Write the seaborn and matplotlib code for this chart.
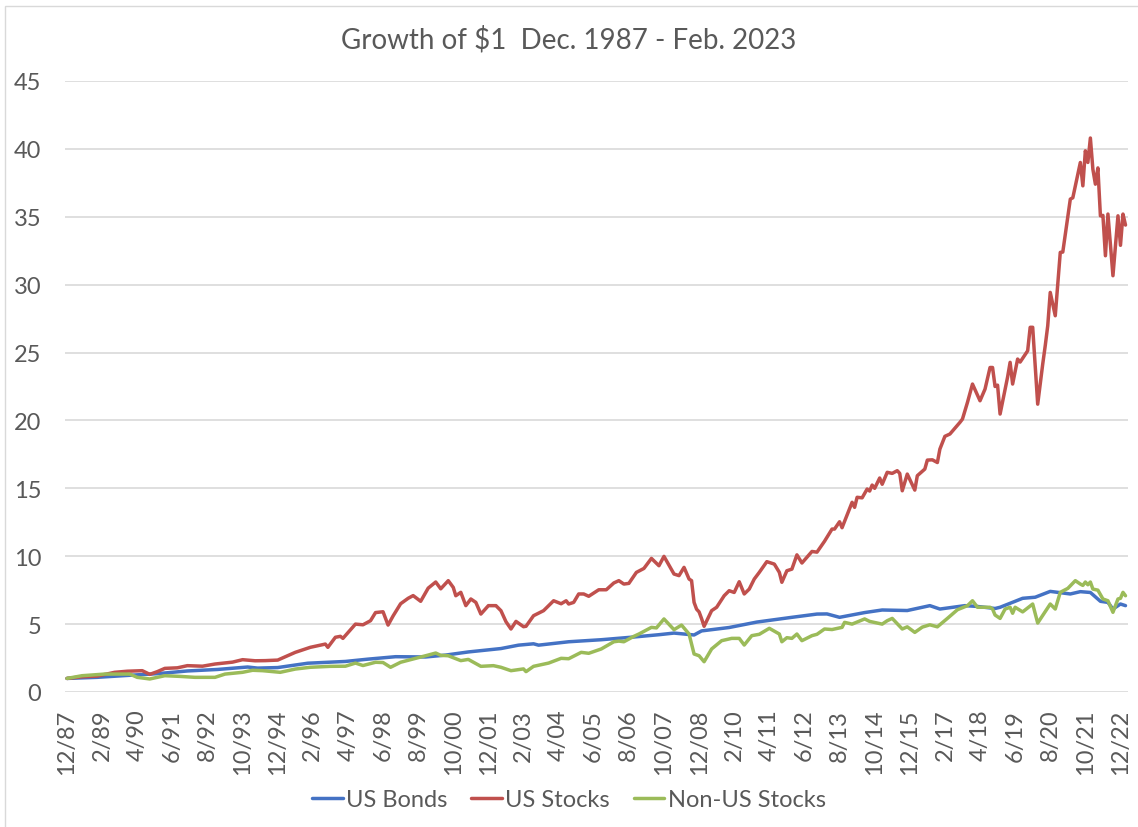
import matplotlib
matplotlib.use("Agg")
import matplotlib.pyplot as plt
from matplotlib.lines import Line2D
from matplotlib.patches import Rectangle
import pandas as pd
import seaborn as sns

# ---- Growth of $1 invested at the end of December 1987 (month-end values) ----
bond_dates = [
    "1987-12", "1988-12", "1989-12", "1990-12", "1991-12", "1992-12", "1993-12", "1994-04",
    "1994-12", "1995-12", "1997-03", "1997-12", "1998-11", "1999-11", "2000-07", "2001-04",
    "2002-05", "2002-12", "2003-06", "2003-08", "2004-08", "2005-09", "2006-10", "2007-08",
    "2008-02", "2008-10", "2009-01", "2009-12", "2010-11", "2012-01", "2012-11", "2013-03",
    "2013-08", "2014-06", "2015-01", "2015-11", "2016-08", "2016-12", "2017-10", "2018-03",
    "2018-10", "2018-12", "2019-09", "2020-02", "2020-08", "2021-04", "2021-08", "2021-12",
    "2022-04", "2022-07", "2022-09", "2022-12", "2023-02",
]
bond_values = [
    1.00, 1.08, 1.22, 1.35, 1.55, 1.66, 1.84, 1.76,
    1.80, 2.12, 2.25, 2.42, 2.60, 2.58, 2.72, 2.95,
    3.20, 3.45, 3.55, 3.45, 3.70, 3.85, 4.05, 4.22,
    4.34, 4.20, 4.50, 4.75, 5.15, 5.50, 5.74, 5.75,
    5.50, 5.85, 6.04, 6.00, 6.36, 6.11, 6.36, 6.30,
    6.15, 6.24, 6.90, 6.98, 7.41, 7.22, 7.39, 7.33,
    6.68, 6.60, 6.11, 6.48, 6.36,
]

stock_dates = [
    "1987-12", "1988-06", "1988-12", "1989-07", "1989-12", "1990-06", "1990-09", "1990-12",
    "1991-03", "1991-08", "1991-12", "1992-06", "1992-11", "1993-06", "1993-10", "1994-03",
    "1994-07", "1994-12", "1995-07", "1996-01", "1996-07", "1996-08", "1996-11", "1997-01",
    "1997-02", "1997-07", "1997-10", "1998-01", "1998-03", "1998-06", "1998-08", "1998-10",
    "1999-01", "1999-04", "1999-06", "1999-09", "1999-12", "2000-03", "2000-05", "2000-08",
    "2000-10", "2000-11", "2001-01", "2001-03", "2001-05", "2001-07", "2001-09", "2001-12",
    "2002-03", "2002-05", "2002-07", "2002-09", "2002-11", "2003-02", "2003-03", "2003-06",
    "2003-10", "2004-02", "2004-05", "2004-07", "2004-08", "2004-10", "2004-12", "2005-02",
    "2005-04", "2005-08", "2005-11", "2006-02", "2006-04", "2006-06", "2006-08", "2006-11",
    "2007-02", "2007-05", "2007-08", "2007-10", "2008-02", "2008-04", "2008-06", "2008-08",
    "2008-09", "2008-10", "2008-11", "2008-12", "2009-01", "2009-02", "2009-05", "2009-07",
    "2009-10", "2009-12", "2010-02", "2010-04", "2010-06", "2010-08", "2010-10", "2010-12",
    "2011-03", "2011-06", "2011-08", "2011-09", "2011-11", "2012-01", "2012-03", "2012-05",
    "2012-09", "2012-11", "2013-02", "2013-05", "2013-06", "2013-08", "2013-09", "2014-01",
    "2014-02", "2014-03", "2014-05", "2014-07", "2014-08", "2014-09", "2014-10", "2014-12",
    "2015-01", "2015-03", "2015-05", "2015-07", "2015-08", "2015-09", "2015-11", "2016-02",
    "2016-03", "2016-06", "2016-07", "2016-09", "2016-11", "2016-12", "2017-02", "2017-04",
    "2017-08", "2017-09", "2017-11", "2018-01", "2018-04", "2018-06", "2018-08", "2018-09",
    "2018-10", "2018-11", "2018-12", "2019-02", "2019-03", "2019-04", "2019-05", "2019-07",
    "2019-08", "2019-11", "2019-12", "2020-01", "2020-03", "2020-05", "2020-06", "2020-07",
    "2020-08", "2020-10", "2020-12", "2021-01", "2021-04", "2021-05", "2021-08", "2021-09",
    "2021-10", "2021-11", "2021-12", "2022-01", "2022-02", "2022-03", "2022-04", "2022-05",
    "2022-06", "2022-07", "2022-09", "2022-11", "2022-12", "2023-01", "2023-02",
]
stock_values = [
    1.00, 1.12, 1.17, 1.45, 1.53, 1.57, 1.30, 1.50,
    1.74, 1.78, 1.94, 1.90, 2.06, 2.20, 2.38, 2.30,
    2.31, 2.35, 2.92, 3.29, 3.53, 3.29, 4.03, 4.10,
    3.95, 5.00, 4.95, 5.25, 5.85, 5.91, 4.93, 5.60,
    6.50, 6.90, 7.10, 6.68, 7.65, 8.10, 7.60, 8.20,
    7.70, 7.09, 7.34, 6.36, 6.85, 6.60, 5.74, 6.36,
    6.36, 5.99, 5.18, 4.64, 5.20, 4.81, 4.84, 5.62,
    5.99, 6.72, 6.50, 6.72, 6.48, 6.60, 7.22, 7.22,
    7.05, 7.53, 7.53, 8.03, 8.20, 7.95, 8.00, 8.81,
    9.10, 9.84, 9.30, 9.99, 8.69, 8.57, 9.18, 8.32,
    8.20, 6.60, 6.10, 5.90, 5.40, 4.84, 5.99, 6.24,
    7.09, 7.46, 7.33, 8.12, 7.22, 7.58, 8.32, 8.81,
    9.60, 9.42, 8.81, 8.08, 8.93, 9.05, 10.10, 9.50,
    10.35, 10.30, 11.10, 12.00, 12.00, 12.54, 12.10, 13.97,
    13.60, 14.34, 14.30, 14.95, 14.80, 15.24, 15.00, 15.76,
    15.30, 16.18, 16.10, 16.30, 16.10, 14.82, 16.05, 14.87,
    15.93, 16.42, 17.08, 17.10, 16.90, 17.89, 18.83, 19.00,
    19.86, 20.10, 21.33, 22.68, 21.45, 22.31, 23.90, 23.90,
    22.50, 22.60, 20.47, 22.31, 23.20, 24.28, 22.68, 24.52,
    24.30, 25.13, 26.86, 26.86, 21.20, 24.15, 25.50, 26.97,
    29.43, 27.71, 32.38, 32.40, 36.30, 36.40, 39.00, 37.28,
    39.86, 39.00, 40.80, 38.50, 37.40, 38.60, 35.07, 35.10,
    32.13, 35.20, 30.66, 35.07, 32.90, 35.20, 34.39,
]

intl_dates = [
    "1987-12", "1988-06", "1989-03", "1990-01", "1990-04", "1990-09", "1990-12", "1991-03",
    "1991-09", "1992-03", "1992-11", "1993-03", "1993-10", "1994-02", "1994-06", "1995-01",
    "1995-07", "1996-01", "1996-09", "1997-03", "1997-07", "1997-10", "1998-03", "1998-06",
    "1998-09", "1999-01", "1999-07", "1999-12", "2000-03", "2000-05", "2000-08", "2001-01",
    "2001-04", "2001-09", "2002-02", "2002-05", "2002-09", "2003-02", "2003-03", "2003-06",
    "2003-12", "2004-05", "2004-08", "2005-01", "2005-04", "2005-09", "2006-02", "2006-04",
    "2006-06", "2006-10", "2006-12", "2007-05", "2007-07", "2007-10", "2008-02", "2008-05",
    "2008-08", "2008-10", "2008-12", "2009-02", "2009-05", "2009-09", "2010-01", "2010-04",
    "2010-06", "2010-09", "2010-12", "2011-04", "2011-08", "2011-09", "2011-11", "2012-01",
    "2012-03", "2012-05", "2012-09", "2012-11", "2013-02", "2013-05", "2013-09", "2013-10",
    "2014-01", "2014-06", "2014-08", "2015-01", "2015-03", "2015-05", "2015-09", "2015-11",
    "2016-02", "2016-05", "2016-08", "2016-11", "2017-03", "2017-07", "2017-11", "2018-01",
    "2018-03", "2018-08", "2018-09", "2018-10", "2018-12", "2019-02", "2019-04", "2019-05",
    "2019-06", "2019-09", "2020-01", "2020-03", "2020-08", "2020-10", "2020-12", "2021-03",
    "2021-06", "2021-08", "2021-09", "2021-10", "2021-11", "2021-12", "2022-01", "2022-03",
    "2022-05", "2022-07", "2022-09", "2022-11", "2022-12", "2023-01", "2023-02",
]
intl_values = [
    1.00, 1.20, 1.32, 1.32, 1.08, 0.96, 1.08, 1.20,
    1.15, 1.08, 1.08, 1.32, 1.45, 1.60, 1.57, 1.45,
    1.69, 1.82, 1.89, 1.90, 2.13, 1.95, 2.19, 2.17,
    1.82, 2.19, 2.48, 2.72, 2.87, 2.70, 2.67, 2.31,
    2.40, 1.89, 1.94, 1.82, 1.57, 1.70, 1.50, 1.89,
    2.13, 2.48, 2.45, 2.92, 2.85, 3.17, 3.70, 3.75,
    3.70, 4.10, 4.27, 4.76, 4.72, 5.38, 4.59, 4.93,
    4.27, 2.80, 2.67, 2.23, 3.17, 3.78, 3.95, 3.95,
    3.46, 4.15, 4.25, 4.69, 4.27, 3.70, 4.00, 3.95,
    4.27, 3.78, 4.15, 4.25, 4.64, 4.60, 4.76, 5.13,
    5.00, 5.38, 5.20, 5.00, 5.25, 5.42, 4.64, 4.80,
    4.39, 4.78, 4.95, 4.80, 5.42, 6.06, 6.36, 6.72,
    6.24, 6.24, 6.11, 5.67, 5.42, 6.11, 6.24, 5.80,
    6.24, 5.90, 6.48, 5.08, 6.48, 6.11, 7.34, 7.63,
    8.20, 7.95, 7.85, 8.10, 7.90, 8.10, 7.58, 7.50,
    6.85, 6.72, 5.87, 6.85, 6.90, 7.34, 7.09,
]

series_names = ["US Bonds", "US Stocks", "Non-US Stocks"]
series_colors = ["#4472C4", "#C0504D", "#9BBB59"]

tick_labels = [
    "12/87", "2/89", "4/90", "6/91", "8/92", "10/93", "12/94", "2/96", "4/97", "6/98",
    "8/99", "10/00", "12/01", "2/03", "4/04", "6/05", "8/06", "10/07", "12/08", "2/10",
    "4/11", "6/12", "8/13", "10/14", "12/15", "2/17", "4/18", "6/19", "8/20", "10/21",
    "12/22",
]
y_ticks = [0, 5, 10, 15, 20, 25, 30, 35, 40, 45]

start = pd.Period("1987-12", freq="M")


def month_number(dates):
    """Months elapsed since the starting month (category position on the axis)."""
    return [(pd.Period(d, freq="M") - start).n for d in dates]


def label_to_date(label):
    month, yy = (int(part) for part in label.split("/"))
    year = 2000 + yy if yy < 50 else 1900 + yy
    return f"{year}-{month:02d}"


frames = []
for name, dates, values in zip(series_names,
                               [bond_dates, stock_dates, intl_dates],
                               [bond_values, stock_values, intl_values]):
    frames.append(pd.DataFrame({"month": month_number(dates),
                                "growth": values,
                                "series": name}))
df = pd.concat(frames, ignore_index=True)

tick_months = month_number([label_to_date(t) for t in tick_labels])

sns.set_theme(style="white")
plt.rcParams["font.family"] = ["Lato", "DejaVu Sans"]
text_color = "#595959"
grid_color = "#D9D9D9"

W, H = 1138, 828
fig = plt.figure(figsize=(W / 100, H / 100), dpi=100)
fig.patch.set_facecolor("white")

# chart-area border
fig.patches.append(Rectangle((5 / W, -0.1), 1.2, 1.1 - 7 / H,
                             transform=fig.transFigure, fill=False,
                             edgecolor=grid_color, linewidth=1.0))

ax = fig.add_axes([65 / W, 135 / H, (1128 - 65) / W, (746 - 135) / H])
sns.lineplot(data=df, x="month", y="growth", hue="series",
             hue_order=series_names, palette=series_colors,
             estimator=None, sort=True, linewidth=2.5, legend=False, ax=ax)

ax.set_xlim(-0.8, 423)
ax.set_ylim(0, 45)
ax.set_yticks(y_ticks)
ax.set_yticklabels([str(v) for v in y_ticks])
ax.set_xticks(tick_months)
ax.set_xticklabels(tick_labels, rotation=90)
ax.set_xlabel("")
ax.set_ylabel("")
ax.yaxis.grid(True, color=grid_color, linewidth=1.2)
ax.xaxis.grid(False)
ax.set_axisbelow(True)
for spine in ax.spines.values():
    spine.set_visible(False)
ax.tick_params(axis="y", length=0, pad=17, labelsize=17, labelcolor=text_color)
ax.tick_params(axis="x", length=0, pad=12, labelsize=17, labelcolor=text_color)

fig.text(0.5, 1 - 40 / H, "Growth of $1  Dec. 1987 - Feb. 2023",
         ha="center", va="center", fontsize=20, color=text_color)

handles = [Line2D([0], [0], color=c, linewidth=2.5) for c in series_colors]
fig.legend(handles, series_names, loc="center", bbox_to_anchor=(0.5, 1 - 801 / H),
           ncol=3, frameon=False, fontsize=17, labelcolor=text_color,
           handlelength=1.3, handletextpad=0.15, columnspacing=1.0)

fig.savefig("out.png", dpi=100, facecolor="white")
